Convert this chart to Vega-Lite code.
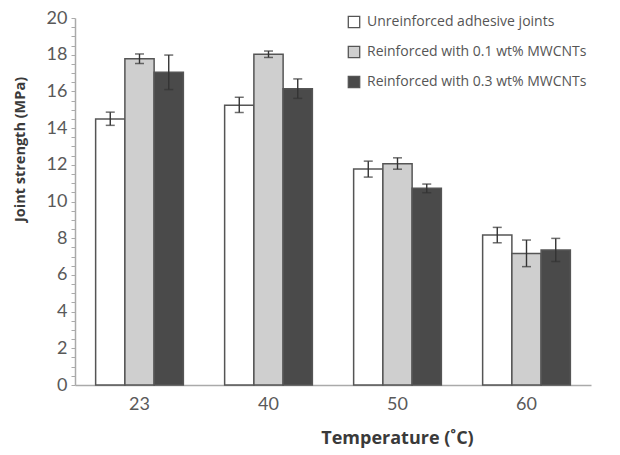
{
  "$schema": "https://vega.github.io/schema/vega-lite/v6.json",
  "autosize": "none",
  "width": 516,
  "height": 367,
  "padding": {"left": 75, "top": 18, "right": 29, "bottom": 70},
  "background": "white",
  "data": {
    "values": [
      {"temp": "23", "series": "Unreinforced adhesive joints", "value": 14.5, "lo": 14.15, "hi": 14.87},
      {"temp": "23", "series": "Reinforced with 0.1 wt% MWCNTs", "value": 17.78, "lo": 17.52, "hi": 18.04},
      {"temp": "23", "series": "Reinforced with 0.3 wt% MWCNTs", "value": 17.05, "lo": 16.1, "hi": 17.98},
      {"temp": "40", "series": "Unreinforced adhesive joints", "value": 15.25, "lo": 14.85, "hi": 15.68},
      {"temp": "40", "series": "Reinforced with 0.1 wt% MWCNTs", "value": 18.02, "lo": 17.85, "hi": 18.2},
      {"temp": "40", "series": "Reinforced with 0.3 wt% MWCNTs", "value": 16.15, "lo": 15.62, "hi": 16.68},
      {"temp": "50", "series": "Unreinforced adhesive joints", "value": 11.77, "lo": 11.33, "hi": 12.2},
      {"temp": "50", "series": "Reinforced with 0.1 wt% MWCNTs", "value": 12.06, "lo": 11.76, "hi": 12.38},
      {"temp": "50", "series": "Reinforced with 0.3 wt% MWCNTs", "value": 10.72, "lo": 10.48, "hi": 10.95},
      {"temp": "60", "series": "Unreinforced adhesive joints", "value": 8.17, "lo": 7.75, "hi": 8.59},
      {"temp": "60", "series": "Reinforced with 0.1 wt% MWCNTs", "value": 7.17, "lo": 6.45, "hi": 7.9},
      {"temp": "60", "series": "Reinforced with 0.3 wt% MWCNTs", "value": 7.36, "lo": 6.73, "hi": 7.99}
    ]
  },
  "encoding": {
    "x": {
      "field": "temp",
      "type": "ordinal",
      "scale": {"paddingInner": 0.32, "paddingOuter": 0.16},
      "axis": {
        "title": "Temperature (\u02daC)",
        "titleFont": "Open Sans",
        "titleFontSize": 18,
        "titleFontWeight": "bold",
        "titleColor": "#3a3a3a",
        "titleX": 322,
        "titleY": 44,
        "labelAngle": 0,
        "labelFont": "Lato",
        "labelFontSize": 18,
        "labelColor": "#595959",
        "labelPadding": 10,
        "ticks": false,
        "domainColor": "#aaaaaa",
        "domainWidth": 1.5
      }
    },
    "xOffset": {
      "field": "series",
      "type": "nominal",
      "sort": ["Unreinforced adhesive joints", "Reinforced with 0.1 wt% MWCNTs", "Reinforced with 0.3 wt% MWCNTs"],
      "scale": {"paddingInner": 0, "paddingOuter": 0}
    }
  },
  "layer": [
    {
      "mark": {"type": "bar", "stroke": "#555555", "strokeWidth": 1.5},
      "encoding": {
        "y": {
          "field": "value",
          "type": "quantitative",
          "scale": {"domain": [0, 20], "nice": false},
          "axis": {
            "title": "Joint strength (MPa)",
            "titleFont": "Open Sans",
            "titleFontSize": 14.5,
            "titleFontWeight": "bold",
            "titleColor": "#3a3a3a",
            "titleX": -48,
            "titleY": 131,
            "values": [0,0.5,1,1.5,2,2.5,3,3.5,4,4.5,5,5.5,6,6.5,7,7.5,8,8.5,9,9.5,10,10.5,11,11.5,12,12.5,13,13.5,14,14.5,15,15.5,16,16.5,17,17.5,18,18.5,19,19.5,20],
            "labelExpr": "datum.value % 2 === 0 ? format(datum.value, 'd') : ''",
            "labelOverlap": false,
            "labelFont": "Lato",
            "labelFontSize": 18,
            "labelColor": "#595959",
            "labelPadding": 4,
            "tickSize": 4,
            "tickColor": "#aaaaaa",
            "domainColor": "#aaaaaa",
            "domainWidth": 1.5,
            "grid": false
          }
        },
        "color": {
          "field": "series",
          "type": "nominal",
          "sort": ["Unreinforced adhesive joints", "Reinforced with 0.1 wt% MWCNTs", "Reinforced with 0.3 wt% MWCNTs"],
          "scale": {"range": ["#ffffff", "#cfcfcf", "#4a4a4a"]},
          "legend": {
            "title": null,
            "orient": "none",
            "legendX": 272,
            "legendY": -3,
            "symbolType": "square",
            "symbolSize": 130,
            "symbolStrokeColor": "#555555",
            "symbolStrokeWidth": 1.3,
            "labelFont": "Open Sans",
            "labelFontSize": 14,
            "labelColor": "#555555",
            "labelLimit": 0,
            "labelOffset": 6,
            "rowPadding": 12
          }
        }
      }
    },
    {
      "mark": {"type": "rule", "color": "#333333", "strokeWidth": 1.4},
      "encoding": {
        "y": {
          "field": "lo",
          "type": "quantitative",
          "axis": {
            "title": "Joint strength (MPa)",
            "titleFont": "Open Sans",
            "titleFontSize": 14.5,
            "titleFontWeight": "bold",
            "titleColor": "#3a3a3a",
            "titleX": -48,
            "titleY": 131,
            "values": [0,0.5,1,1.5,2,2.5,3,3.5,4,4.5,5,5.5,6,6.5,7,7.5,8,8.5,9,9.5,10,10.5,11,11.5,12,12.5,13,13.5,14,14.5,15,15.5,16,16.5,17,17.5,18,18.5,19,19.5,20],
            "labelExpr": "datum.value % 2 === 0 ? format(datum.value, 'd') : ''",
            "labelOverlap": false,
            "labelFont": "Lato",
            "labelFontSize": 18,
            "labelColor": "#595959",
            "labelPadding": 4,
            "tickSize": 4,
            "tickColor": "#aaaaaa",
            "domainColor": "#aaaaaa",
            "domainWidth": 1.5,
            "grid": false
          }
        },
        "y2": {"field": "hi"}
      }
    },
    {
      "mark": {"type": "tick", "orient": "horizontal", "color": "#333333", "size": 9, "thickness": 1.5},
      "encoding": {
        "y": {
          "field": "hi",
          "type": "quantitative",
          "axis": {
            "title": "Joint strength (MPa)",
            "titleFont": "Open Sans",
            "titleFontSize": 14.5,
            "titleFontWeight": "bold",
            "titleColor": "#3a3a3a",
            "titleX": -48,
            "titleY": 131,
            "values": [0,0.5,1,1.5,2,2.5,3,3.5,4,4.5,5,5.5,6,6.5,7,7.5,8,8.5,9,9.5,10,10.5,11,11.5,12,12.5,13,13.5,14,14.5,15,15.5,16,16.5,17,17.5,18,18.5,19,19.5,20],
            "labelExpr": "datum.value % 2 === 0 ? format(datum.value, 'd') : ''",
            "labelOverlap": false,
            "labelFont": "Lato",
            "labelFontSize": 18,
            "labelColor": "#595959",
            "labelPadding": 4,
            "tickSize": 4,
            "tickColor": "#aaaaaa",
            "domainColor": "#aaaaaa",
            "domainWidth": 1.5,
            "grid": false
          }
        }
      }
    },
    {
      "mark": {"type": "tick", "orient": "horizontal", "color": "#333333", "size": 9, "thickness": 1.5},
      "encoding": {
        "y": {
          "field": "lo",
          "type": "quantitative",
          "axis": {
            "title": "Joint strength (MPa)",
            "titleFont": "Open Sans",
            "titleFontSize": 14.5,
            "titleFontWeight": "bold",
            "titleColor": "#3a3a3a",
            "titleX": -48,
            "titleY": 131,
            "values": [0,0.5,1,1.5,2,2.5,3,3.5,4,4.5,5,5.5,6,6.5,7,7.5,8,8.5,9,9.5,10,10.5,11,11.5,12,12.5,13,13.5,14,14.5,15,15.5,16,16.5,17,17.5,18,18.5,19,19.5,20],
            "labelExpr": "datum.value % 2 === 0 ? format(datum.value, 'd') : ''",
            "labelOverlap": false,
            "labelFont": "Lato",
            "labelFontSize": 18,
            "labelColor": "#595959",
            "labelPadding": 4,
            "tickSize": 4,
            "tickColor": "#aaaaaa",
            "domainColor": "#aaaaaa",
            "domainWidth": 1.5,
            "grid": false
          }
        }
      }
    }
  ],
  "config": {
    "view": {"stroke": null},
    "axisY": {"labelOverlap": false}
  }
}
